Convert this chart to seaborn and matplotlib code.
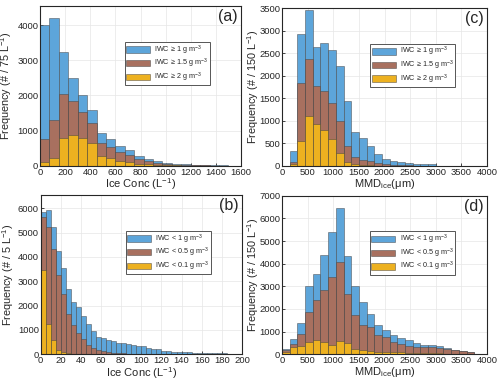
import numpy as np
import pandas as pd
import matplotlib
matplotlib.use("Agg")
import matplotlib.pyplot as plt
import seaborn as sns

# ---------------------------------------------------------------
# DATA
# ---------------------------------------------------------------

# (a) Ice Conc, 75 L^-1 bins starting at 0, high IWC thresholds
conc_hi_width = 75
conc_hi_blue = [4000, 4200, 3230, 2500, 2010, 1590, 930, 760, 560, 440, 270,
                190, 130, 90, 60, 40, 30, 20, 15, 10, 5]
conc_hi_brown = [750, 1310, 2050, 1840, 1530, 1220, 650, 540, 380, 310, 200,
                 130, 80, 50, 30, 20, 15, 10, 5, 5, 2]
conc_hi_yellow = [100, 220, 790, 880, 800, 660, 280, 210, 130, 100, 60,
                  40, 20, 15, 10, 5, 3, 2, 1, 0, 0]

# (b) Ice Conc, 5 L^-1 bins starting at 0, low IWC thresholds
conc_lo_width = 5
conc_lo_blue = [5850, 5950, 5220, 4230, 3530, 2700, 2160, 1950, 1560, 1260,
                960, 730, 670, 600, 560, 460, 480, 430, 380, 350,
                330, 260, 230, 200, 150, 130, 110, 100, 90, 80,
                70, 60, 60, 50, 50, 40, 40, 30, 30, 30]
conc_lo_brown = [5650, 5230, 4340, 3260, 2490, 1640, 1200, 870, 640, 390,
                 250, 160, 120, 90, 70, 50, 40, 30, 20, 15,
                 10, 8, 6, 5, 4, 3, 3, 2, 2, 2,
                 1, 1, 1, 1, 1, 0, 0, 0, 0, 0]
conc_lo_yellow = [3450, 1260, 590, 180, 90, 50, 30, 20, 10, 5,
                  3, 2, 1, 0, 0, 0, 0, 0, 0, 0,
                  0, 0, 0, 0, 0, 0, 0, 0, 0, 0,
                  0, 0, 0, 0, 0, 0, 0, 0, 0, 0]

# (c) MMD_ice, 150 um bins starting at 150, high IWC thresholds
mmd_hi_start = 150
mmd_hi_blue = [330, 2930, 3450, 2640, 2720, 2580, 2210, 1440, 760, 610,
               430, 260, 150, 100, 80, 60, 50, 50, 30]
mmd_hi_brown = [90, 1840, 2370, 1760, 1660, 1400, 1000, 450, 200, 120,
                100, 70, 30, 20, 10, 10, 5, 5, 3]
mmd_hi_yellow = [30, 540, 1110, 930, 800, 600, 280, 80, 40, 20,
                 10, 5, 0, 0, 0, 0, 0, 0, 0]

# (d) MMD_ice, 150 um bins starting at 0, low IWC thresholds
mmd_lo_start = 0
mmd_lo_blue = [240, 660, 1370, 3020, 3550, 4380, 5400, 6450, 4360, 3010,
               2320, 1760, 1280, 1080, 830, 720, 610, 480, 430, 400,
               350, 270, 210, 150, 110, 30]
mmd_lo_brown = [200, 470, 880, 1850, 2400, 2850, 3400, 4070, 2640, 1750,
                1280, 1190, 860, 750, 530, 460, 380, 330, 320, 300,
                280, 240, 190, 140, 110, 30]
mmd_lo_yellow = [120, 300, 380, 530, 650, 560, 430, 590, 480, 250,
                 200, 150, 110, 80, 80, 80, 70, 60, 50, 50,
                 40, 30, 20, 10, 5, 0]
mmd_width = 150

hi_labels = ["IWC \u2265 1 g m$^{-3}$", "IWC \u2265 1.5 g m$^{-3}$",
             "IWC \u2265 2 g m$^{-3}$"]
lo_labels = ["IWC < 1 g m$^{-3}$", "IWC < 0.5 g m$^{-3}$",
             "IWC < 0.1 g m$^{-3}$"]

COLORS = ["#5DA5DA", "#A8705F", "#EDB120"]
EDGE = (0.25, 0.25, 0.25, 0.55)
NARROW = ["Liberation Sans Narrow", "Liberation Sans", "DejaVu Sans"]


# ---------------------------------------------------------------
# PLOTTING
# ---------------------------------------------------------------

def set_style():
    sns.set_theme(style="whitegrid")
    plt.rcParams.update({
        "font.family": ["Liberation Sans", "DejaVu Sans"],
        "mathtext.default": "regular",
        "axes.edgecolor": "#262626",
        "axes.linewidth": 0.8,
        "grid.color": "#e6e6e6",
        "grid.linewidth": 0.5,
        "xtick.direction": "in",
        "ytick.direction": "in",
        "xtick.bottom": True,
        "ytick.left": True,
        "xtick.major.size": 2.5,
        "ytick.major.size": 2.5,
        "xtick.major.width": 0.6,
        "ytick.major.width": 0.6,
        "xtick.major.pad": 1.2,
        "ytick.major.pad": 1.2,
    })


def draw_panel(ax, start, width, series, labels, tag, xlabel, ylabel,
               xlim, xticks, ylim, yticks, ylab_x):
    n = len(series[0])
    edges = start + width * np.arange(n + 1)
    centers = edges[:-1] + width / 2
    for counts, color, lab in zip(series, COLORS, labels):
        df = pd.DataFrame({"x": centers, "w": counts})
        sns.histplot(data=df, x="x", weights="w", bins=edges.tolist(), ax=ax,
                     color=color, alpha=1, edgecolor=EDGE, linewidth=0.6,
                     label=lab)
    ax.set_axisbelow(True)
    ax.set_xlim(*xlim)
    ax.set_ylim(*ylim)
    ax.set_xticks(xticks)
    ax.set_yticks(yticks)
    ax.tick_params(labelsize=6.8, colors="#262626")
    for t in ax.get_xticklabels() + ax.get_yticklabels():
        t.set_family(NARROW)
    ax.set_xlabel(xlabel, fontsize=8.0, labelpad=0)
    ax.set_ylabel(ylabel, fontsize=7.8, family=NARROW)
    ax.yaxis.set_label_coords(ylab_x, 0.5)
    for sp in ax.spines.values():
        sp.set_visible(True)
    ax.text(0.985, 0.935, tag, transform=ax.transAxes, ha="right", va="center",
            fontsize=11.5)
    leg = ax.legend(loc="upper right", bbox_to_anchor=(0.845, 0.775),
                    prop={"family": NARROW, "size": 5.2},
                    handlelength=3.3, handleheight=1.0,
                    borderpad=0.2, labelspacing=0.05, handletextpad=0.6,
                    borderaxespad=0,
                    fancybox=False, framealpha=1, edgecolor="#555555")
    leg.get_frame().set_linewidth(0.7)


set_style()
fig = plt.figure(figsize=(5.0, 3.83), dpi=100)
ax_a = fig.add_axes([0.080, 0.567, 0.402, 0.418])
ax_c = fig.add_axes([0.564, 0.567, 0.410, 0.412])
ax_b = fig.add_axes([0.081, 0.075, 0.403, 0.416])
ax_d = fig.add_axes([0.564, 0.075, 0.410, 0.414])

draw_panel(ax_a, 0, conc_hi_width, [conc_hi_blue, conc_hi_brown, conc_hi_yellow],
           hi_labels, "(a)", "Ice Conc (L$^{-1}$)", "Frequency (# / 75 L$^{-1}$)",
           (0, 1600), np.arange(0, 1601, 200), (0, 4550), np.arange(0, 4001, 1000),
           -0.128)
draw_panel(ax_c, mmd_hi_start, mmd_width, [mmd_hi_blue, mmd_hi_brown, mmd_hi_yellow],
           hi_labels, "(c)", "MMD$_{ice}$(\u03bcm)", "Frequency (# / 150 L$^{-1}$)",
           (0, 4000), np.arange(0, 4001, 500), (0, 3500), np.arange(0, 3501, 500),
           -0.102)
draw_panel(ax_b, 0, conc_lo_width, [conc_lo_blue, conc_lo_brown, conc_lo_yellow],
           lo_labels, "(b)", "Ice Conc (L$^{-1}$)", "Frequency (# / 5 L$^{-1}$)",
           (0, 200), np.arange(0, 201, 20), (0, 6550), np.arange(0, 6001, 1000),
           -0.122)
draw_panel(ax_d, mmd_lo_start, mmd_width, [mmd_lo_blue, mmd_lo_brown, mmd_lo_yellow],
           lo_labels, "(d)", "MMD$_{ice}$(\u03bcm)", "Frequency (# / 150 L$^{-1}$)",
           (0, 4000), np.arange(0, 4001, 500), (0, 7000), np.arange(0, 7001, 1000),
           -0.102)

fig.savefig("out.png", dpi=100)
